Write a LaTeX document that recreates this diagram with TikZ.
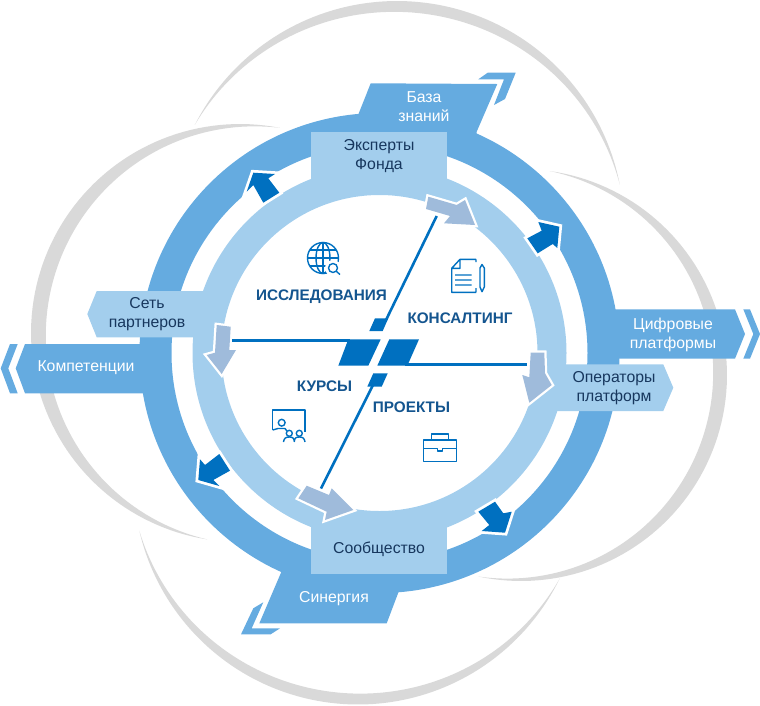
\documentclass[tikz,border=0pt]{standalone}
\usepackage{fontspec}
\setmainfont{Liberation Sans}
\definecolor{ringdark}{HTML}{65ABE0}
\definecolor{ringlight}{HTML}{A3CEED}
\definecolor{arrowdark}{HTML}{0070C0}
\definecolor{arrowpale}{HTML}{9FBBDB}
\definecolor{swoosh}{HTML}{D9D9D9}
\definecolor{headtext}{HTML}{14558F}
\definecolor{boxtext}{HTML}{17375E}
\tikzset{
  swooshfill/.style={fill=swoosh},
  darkarrow/.style={fill=arrowdark,preaction={draw=white,line width=5.5pt,line join=miter,miter limit=6}},
  palearrow/.style={fill=arrowpale,preaction={draw=white,line width=4.5pt,line join=miter,miter limit=6}},
  lighttext/.style={text=white,align=center,font=\fontsize{15.8}{19}\selectfont},
  darktext/.style={text=boxtext,align=center,font=\fontsize{15.8}{19}\selectfont},
  headlabel/.style={text=headtext,font=\bfseries\fontsize{15.3}{17}\selectfont},
  axisline/.style={draw=arrowdark,line width=2.6pt},
  iconline/.style={draw=arrowdark,line width=1.4pt,line join=round}
}
% crescent: centre x, centre y, radius, greatest width, start angle, end angle
\newcommand{\crescent}[6]{%
  \fill[swooshfill]
    plot[domain=#5:#6,samples=90,variable=\t] ({#1+#3*cos(\t)},{#2+#3*sin(\t)})
    -- plot[domain=#6:#5,samples=90,variable=\t]
       ({#1+(#3-#4*sin(180*((\t-(#5))/((#6)-(#5)))))*cos(\t)},{#2+(#3-#4*sin(180*((\t-(#5))/((#6)-(#5)))))*sin(\t)})
    -- cycle;}
\begin{document}
\begin{tikzpicture}[x=1pt,y=-1pt]
\useasboundingbox (0,0) rectangle (760,705);
\coordinate (c) at (379.5,353);

% four grey crescents behind the rings
\crescent{397}{228}{227}{11}{207}{349}
\crescent{521}{375}{206}{14}{-82}{102}
\crescent{358}{480}{224.5}{11}{26}{167}
\crescent{240}{333}{209}{15}{99}{281}

% outer ring with its tags
\fill[ringdark,even odd rule] (c) circle (240pt) (c) circle (208pt);
\fill[ringdark] (357.7,116) -- (370.7,83.3) -- (497.3,84) -- (476.7,131.7) -- (476.7,140) -- (358,125) -- cycle;
\fill[ringdark] (487.7,72.7) -- (515.7,72.7) -- (505,99) -- (494,105) -- (504,79.3) -- (478.3,79.3) -- cycle;
\fill[ringdark] (600,309.3) -- (735,309.3) -- (745,334) -- (735,358.7) -- (600,358.7) -- cycle;
\fill[ringdark] (743.3,309.3) -- (750,309.3) -- (760,334) -- (750,358.7) -- (743.3,358.7) -- (753.3,334) -- cycle;
\fill[ringdark] (155,344) -- (25,344) -- (15.7,368.3) -- (25,393.3) -- (155,393.3) -- cycle;
\fill[white] (130,337.3) rectangle (137.5,344);
\fill[ringdark] (10,344) -- (17.7,344) -- (8.3,368.3) -- (17.7,393.3) -- (10,393.3) -- (0.7,368.3) -- cycle;
\fill[ringdark] (283,568) -- (259.3,623.3) -- (386.7,623.3) -- (399.3,590) -- cycle;
\fill[ringdark] (263.3,602.3) -- (253.3,608.3) -- (241,634.3) -- (270.7,634.3) -- (280,628.3) -- (251.7,628.3) -- cycle;

% inner ring with its tags
\fill[ringlight,even odd rule] (c) circle (187pt) (c) circle (158pt);
\fill[ringlight] (311,132) rectangle (447,185);
\fill[ringlight] (311,525) rectangle (447,574);
\fill[ringlight] (555,364.3) -- (663.3,364.3) -- (673.3,387.7) -- (663.3,411) -- (548,411) -- cycle;
\fill[ringlight] (215,291) -- (96.7,291) -- (87.3,314) -- (96.7,337.3) -- (205,337.3) -- cycle;

% arrows on the outer band
\fill[darkarrow] (253.3,172.7) -- (275,174) -- (268.3,178.3) -- (279.3,192.7) -- (263.3,202.7) -- (253.3,185) -- (246.7,191.7) -- cycle;
\fill[darkarrow] (559.3,226.7) -- (538.3,222) -- (541.7,230.7) -- (527.3,238.3) -- (537.7,253.3) -- (552.7,244) -- (557.3,248) -- cycle;
\fill[darkarrow] (478.3,511.7) -- (495,501.7) -- (503.3,513.3) -- (511.7,511.7) -- (505,532.7) -- (481.7,531) -- (489.3,525) -- cycle;
\fill[darkarrow] (198.3,480) -- (200,459.3) -- (205,465) -- (219.3,454) -- (230,470.7) -- (213.3,480) -- (219.3,486) -- cycle;

% arrows on the inner band
\fill[palearrow] (428.3,196.7) -- (456.7,205) -- (465,200) -- (475,225) -- (444,223.3) -- (450,216) -- (426,209) -- cycle;
\fill[palearrow] (530.7,352.7) -- (544.3,352.7) -- (545,373.3) -- (551.7,385) -- (529.3,402.7) -- (522.3,375) -- (529.3,377.3) -- cycle;
\fill[palearrow] (216.7,325) -- (230.7,326.7) -- (229.3,350) -- (236,350) -- (221.7,374) -- (206.7,355) -- (215,352.7) -- cycle;
\fill[palearrow] (306.7,485.7) -- (329,495) -- (331.7,488.3) -- (353.3,510) -- (325,520) -- (326.7,511.7) -- (298.3,498.3) -- cycle;

% central axes
\coordinate (axisA) at (436.7,216);
\coordinate (axisB) at (386,320);
\coordinate (axisC) at (373,385);
\coordinate (axisD) at (321,488.5);
\coordinate (axisE) at (232,340.6);
\coordinate (axisF) at (350,340.6);
\coordinate (axisG) at (405,364.4);
\coordinate (axisH) at (526.7,364.4);
\draw[axisline] (axisA) -- (axisB);
\draw[axisline] (axisC) -- (axisD);
\draw[axisline] (axisE) -- (axisF);
\draw[axisline] (axisG) -- (axisH);
\fill[arrowdark] (375,318.3) -- (388.3,318.3) -- (382.7,331) -- (369.3,331) -- cycle;
\fill[arrowdark] (348.3,339.3) -- (380.7,339.3) -- (368.3,365.7) -- (338.3,365.7) -- cycle;
\fill[arrowdark] (389.3,339.3) -- (419,339.3) -- (407.3,365.7) -- (377.3,365.7) -- cycle;
\fill[arrowdark] (373.3,373.3) -- (387.7,373.3) -- (381.7,386.7) -- (367.3,386.7) -- cycle;

% globe icon
\draw[iconline] (323,258) circle (15.5pt);
\draw[iconline] (323,258) ellipse (7pt and 15.5pt);
\draw[iconline] (323,242.5) -- (323,273.5) (307.5,258) -- (338.5,258)
  (310,250) -- (336,250) (310,266) -- (330,266);
\fill[white] (333,268) circle (8pt);
\draw[iconline] (333,268) circle (4.5pt) (336.5,271.5) -- (340,274.5);

% document icon
\draw[iconline] (460,259.3) -- (476,259.3) (476,292.3) -- (451.7,292.3) -- (451.7,268.3) -- (460,259.3) -- (460,268.3) -- (451.7,268.3)
  (476,259.3) -- (476,262) (476,288) -- (476,292.3)
  (455,275) -- (471.7,275) (455,280) -- (471.7,280) (455,285) -- (471.7,285);
\draw[iconline] (480,268) -- (482,264.5) -- (484.3,268) -- (484.3,287) -- (482,291.7) -- (480,287) -- cycle;

% presentation icon
\draw[iconline] (272.7,430) -- (272.7,410) -- (305,410) -- (305,431.7);
\draw[iconline] (281.7,422.7) circle (3.4pt) (289.3,433.3) circle (3pt) (299.3,433.3) circle (3pt);
\draw[iconline] (272.7,430) -- (278,428.5) -- (285,428.5) -- (287,431)
  (283.5,442) .. controls (284,438) and (286,437) .. (289.3,437) .. controls (292.5,437) and (294,438) .. (294.3,441.5)
  .. controls (294.6,438) and (296,437) .. (299.3,437) .. controls (302.5,437) and (304.5,438) .. (305,442);

% briefcase icon
\draw[iconline] (423.3,440) rectangle (456.7,461.7);
\draw[iconline] (431.7,440) -- (431.7,434) -- (448.3,434) -- (448.3,440);
\draw[iconline] (423.3,448.3) -- (437.5,448.3) -- (437.5,451) -- (442.5,451) -- (442.5,448.3) -- (456.7,448.3);

% section headings
\node[headlabel] (research) at (321.5,297) {ИССЛЕДОВАНИЯ};
\node[headlabel] (consulting) at (460,318) {КОНСАЛТИНГ};
\node[headlabel] (courses) at (324.5,386) {КУРСЫ};
\node[headlabel] (projects) at (411.5,407) {ПРОЕКТЫ};

% tag captions
\node[lighttext] (base) at (424,107) {База\\знаний};
\node[darktext] (experts) at (379,156.5) {Эксперты\\Фонда};
\node[lighttext] (digital) at (673,334.5) {Цифровые\\платформы};
\node[darktext] (operators) at (614,388.5) {Операторы\\платформ};
\node[darktext] (network) at (147,314) {Сеть\\партнеров};
\node[lighttext] (skills) at (86,368) {Компетенции};
\node[darktext] (community) at (379,549) {Сообщество};
\node[lighttext] (synergy) at (334,599) {Синергия};
\end{tikzpicture}
\end{document}
